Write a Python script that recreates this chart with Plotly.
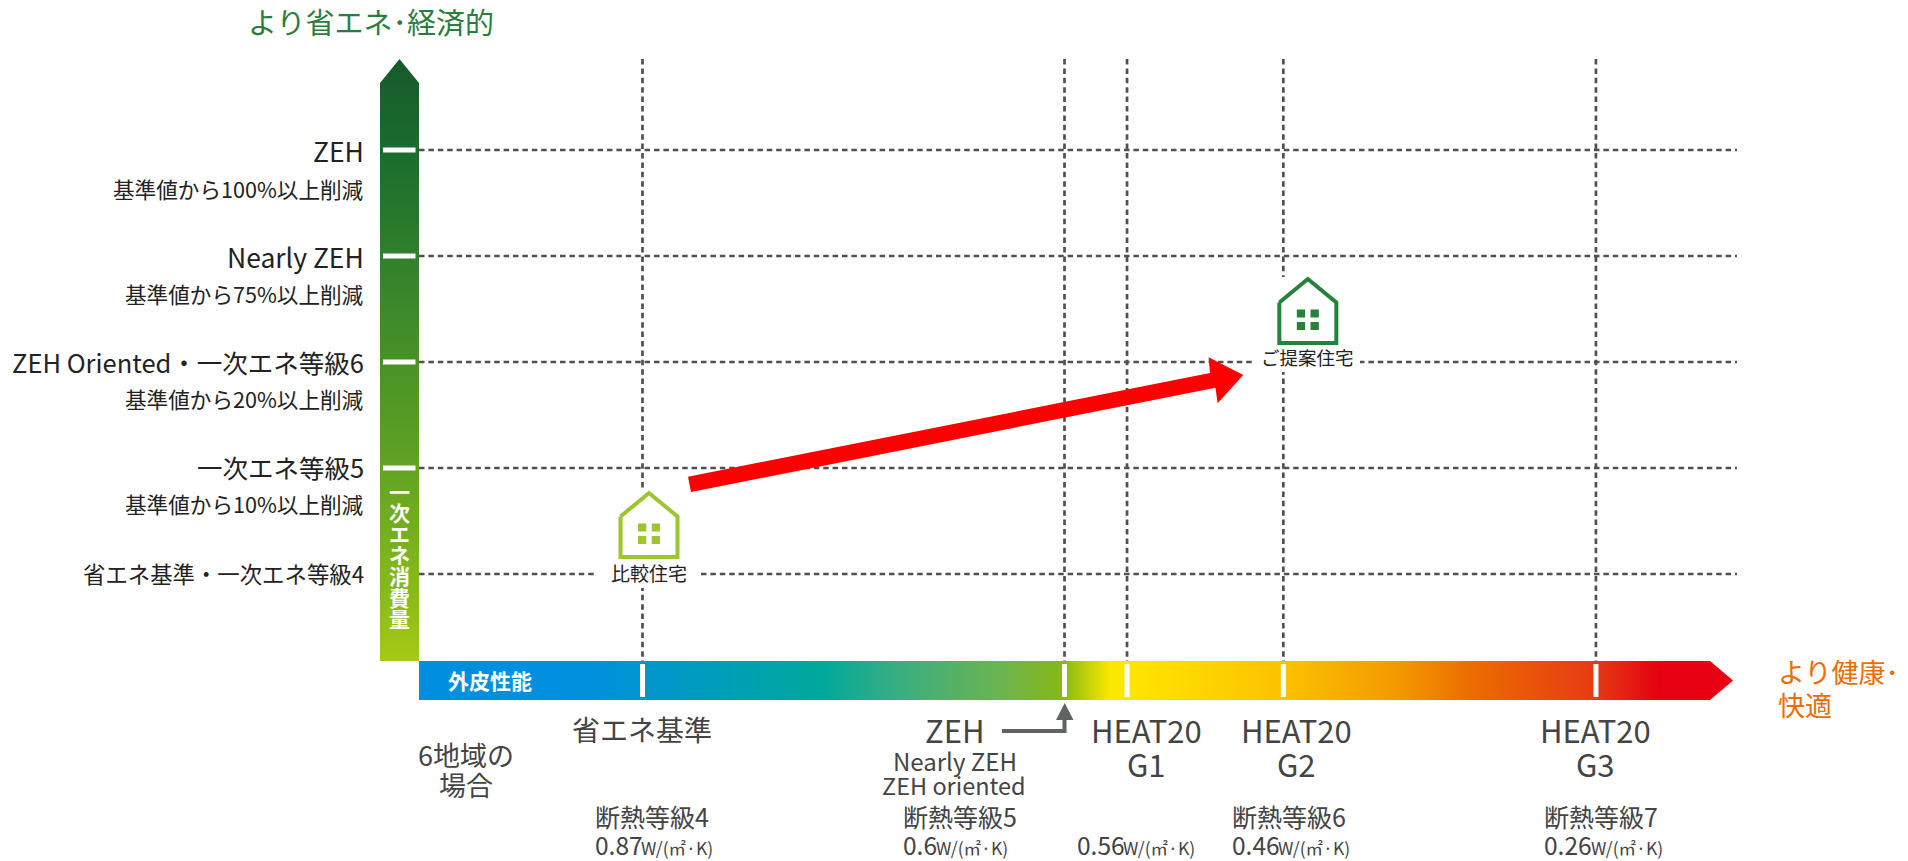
import plotly.graph_objects as go

# ---------- data ----------
envelope_names = ["省エネ基準", "ZEH", "HEAT20 G1", "HEAT20 G2", "HEAT20 G3"]
envelope_ua = [0.87, 0.6, 0.56, 0.46, 0.26]
energy_names = ["省エネ基準・一次エネ等級4", "一次エネ等級5", "ZEH Oriented・一次エネ等級6", "Nearly ZEH", "ZEH"]
energy_level = [4, 5, 6, 7, 8]
energy_notes = ["", "基準値から10%以上削減", "基準値から20%以上削減", "基準値から75%以上削減", "基準値から100%以上削減"]
compare_house = (0.87, 4)
proposal_house = (0.46, 6)
grade_labels = ["断熱等級4", "断熱等級5", "断熱等級6", "断熱等級7"]
ua_labels = ["0.87", "0.6", "0.56", "0.46", "0.26"]
unit_label = "W/(㎡·K)"

FONT = "Noto Sans CJK JP"
W, H = 1908, 861


# axis scales: pixels per unit of each axis
def ux(p):
    return 0.87 - (p - 642.5) / 1563.0


def lv(p):
    return 4 + (574 - p) / 106.0


def px_x(u):
    return 642.5 + (0.87 - u) * 1563.0


def px_y(l):
    return 574 - (l - 4) * 106.0


fig = go.Figure()


def poly(pts, **kw):
    fig.add_trace(go.Scatter(x=[ux(p[0]) for p in pts], y=[lv(p[1]) for p in pts], fill="toself",
                             hoverinfo="skip", showlegend=False, **kw))


# gridlines
GRID = dict(color="#505050", width=2.7, dash="5.5px,3.9px")
for l in energy_level:
    fig.add_trace(go.Scatter(x=[ux(419), ux(1737)], y=[l, l], mode="lines", line=GRID, hoverinfo="skip", showlegend=False))
for u in envelope_ua:
    fig.add_trace(go.Scatter(x=[u, u], y=[lv(59), lv(661)], mode="lines", line=GRID, hoverinfo="skip", showlegend=False))

# vertical gradient arrow
poly([(380, 661), (380, 83), (399.5, 59), (419, 83), (419, 661), (380, 661)], mode="lines", line=dict(width=0),
     fillgradient=dict(type="vertical", start=lv(661), stop=lv(59), colorscale=[
         [0, "#a6c914"], [0.12, "#86b91c"], [0.35, "#5da024"], [0.6, "#3a882b"], [0.85, "#1a6c2d"], [1, "#175a2b"]]))


# horizontal gradient arrow
def f(p):
    return (p - 419) / (1733 - 419)


poly([(419, 661), (1710, 661), (1733, 680.5), (1710, 700), (419, 700), (419, 661)], mode="lines", line=dict(width=0),
     fillgradient=dict(type="horizontal", start=ux(419), stop=ux(1733), colorscale=[
         [0, "#008fe0"], [f(590), "#0090de"], [f(820), "#00a89c"], [f(900), "#3aae80"], [f(1000), "#6cb450"],
         [f(1064), "#88b814"], [f(1109), "#f8e800"], [f(1126), "#ffe600"], [f(1283), "#fcc200"], [f(1400), "#f39800"],
         [f(1470), "#ec6d00"], [f(1596), "#e63a14"], [f(1660), "#e60012"], [1, "#e60012"]]))

# white ticks
for l in energy_level[1:]:
    fig.add_trace(go.Scatter(x=[ux(383), ux(415.5)], y=[l, l], mode="lines", line=dict(color="white", width=5),
                             hoverinfo="skip", showlegend=False))
for u in envelope_ua:
    fig.add_trace(go.Scatter(x=[u, u], y=[lv(664), lv(697)], mode="lines", line=dict(color="white", width=5),
                             hoverinfo="skip", showlegend=False))


# houses
def house(anchor, dx, color, box):
    ax, ay = px_x(anchor[0]) + dx, px_y(anchor[1])
    poly([(box[0], box[1]), (box[2], box[1]), (box[2], box[3]), (box[0], box[3]), (box[0], box[1])],
         mode="lines", line=dict(width=0), fillcolor="white")
    t = ay - 81 if anchor is compare_house else ay - 83
    s = t + 23.5
    b = t + 64
    poly([(ax - 28.5, s), (ax, t), (ax + 28.5, s), (ax + 28.5, b), (ax - 28.5, b), (ax - 28.5, s)], mode="lines",
         line=dict(color=color, width=4), fillcolor="white")
    for wx in (ax - 11, ax + 2.7):
        for wy in (t + 30.5, t + 43):
            poly([(wx, wy), (wx + 8.3, wy), (wx + 8.3, wy + 8), (wx, wy + 8), (wx, wy)], mode="lines",
                 line=dict(width=0), fillcolor=color)


house(compare_house, 6.5, "#9dc52e", (597, 489, 700, 588))
house(proposal_house, 24.5, "#25823b", (1255, 277, 1360, 372))

# red arrow
poly([(688, 476.7), (1210, 373), (1208.6, 357.3), (1243.3, 375), (1217.6, 403.3), (1215.5, 387.7), (691, 492), (688, 476.7)],
     mode="lines", line=dict(width=0), fillcolor="#ff0000")

# ZEH bent arrow
fig.add_trace(go.Scatter(x=[ux(1002), ux(1064.5), ux(1064.5)], y=[lv(731), lv(731), lv(718)], mode="lines",
                         line=dict(color="#5f6361", width=4), hoverinfo="skip", showlegend=False))
poly([(1056, 720), (1064.7, 703), (1073.5, 720), (1056, 720)], mode="lines", line=dict(width=0), fillcolor="#5f6361")


# text
def txt(p, q, s, size, color="#444444", anchor="center", bold=False):
    fig.add_annotation(x=ux(p), y=lv(q), text=f"<b>{s}</b>" if bold else s, showarrow=False, xref="x", yref="y",
                       xanchor=anchor, yanchor="middle", borderpad=0, borderwidth=0,
                       font=dict(family=FONT, size=size, color=color))


txt(371, 21, "より省エネ･経済的", 29, "#2a7d3e")
txt(1778, 671, "より健康･", 27, "#ee6c00", "left")
txt(1778, 704, "快適", 27, "#ee6c00", "left")

label_rows = {8: (150, 188), 7: (256, 293), 6: (361, 398), 5: (466, 503), 4: (573, None)}
name_sizes = {8: 26.5, 7: 26.5, 6: 25.5, 5: 25.5, 4: 22.4}
for name, level, note in zip(energy_names, energy_level, energy_notes):
    r = label_rows[level]
    txt(364, r[0], name, name_sizes[level], "#222222", "right")
    if note:
        txt(364, r[1], note, 21.6, "#222222", "right")

for i, c in enumerate("一次エネ消費量"):
    txt(399.5, 491 + i * 21.1, c, 21, "white", bold=True)
txt(490, 680, "外皮性能", 21, "white", bold=True)

txt(649, 572, "比較住宅", 19, "#222222")
txt(1307, 357, "ご提案住宅", 18.5, "#222222")

txt(642, 729, envelope_names[0], 28)
txt(955, 729, envelope_names[1], 31)
txt(955, 760, "Nearly ZEH", 24)
txt(954, 785, "ZEH oriented", 23.5)
for cx, name in zip((1146, 1296, 1595), envelope_names[2:]):
    a, b = name.split(" ")
    txt(cx, 729, a, 31)
    txt(cx, 763, b, 31)
txt(466, 754, "6地域の", 27)
txt(466, 784, "場合", 27)

for left, g in zip((595, 903, 1232, 1544), grade_labels):
    txt(left, 816, g, 25, anchor="left")
for (left, mid), v in zip(((595, 643), (903, 938), (1077, 1124.5), (1232, 1279.5), (1544, 1592.7)), ua_labels):
    txt(left, 844.5, v, 24.5, anchor="left")
    txt(mid - 2, 847, unit_label, 17.5, anchor="left")

fig.update_layout(width=W, height=H, margin=dict(l=0, r=0, t=0, b=0), paper_bgcolor="white", plot_bgcolor="white",
                  showlegend=False,
                  xaxis=dict(range=[ux(0), ux(W)], visible=False, fixedrange=True),
                  yaxis=dict(range=[lv(H), lv(0)], visible=False, fixedrange=True))
fig.write_html("out.html", config={"displayModeBar": False},
               post_script="document.body.style.margin='0';document.documentElement.style.overflow='hidden';")
